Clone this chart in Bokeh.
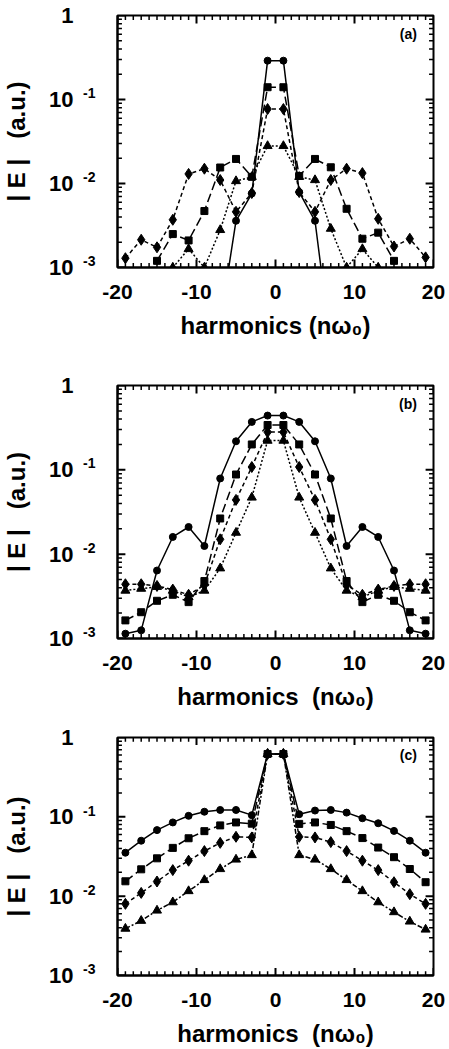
from bokeh.plotting import figure
from bokeh.layouts import column
from bokeh.models import Range1d, LogAxis, FixedTicker, Label
from bokeh.embed import file_html
from bokeh.resources import INLINE

# ---------------- data ----------------
harmonics = [-19, -17, -15, -13, -11, -9, -7, -5, -3, -1,
             1, 3, 5, 7, 9, 11, 13, 15, 17, 19]

# panel (a)
a_circle_n = [-7, -5, -3, -1, 1, 3, 5, 7]
a_circle = [2.2e-4, 3.6e-3, 7.6e-3, 0.29, 0.29, 7.9e-3, 3.6e-3, 1.2e-4]
a_square_n = [-15, -13, -11, -9, -7, -5, -3, -1, 1, 3, 5, 7, 9, 11, 13, 15]
a_square = [1.2e-3, 2.5e-3, 2.1e-3, 4.7e-3, 0.0155, 0.0196, 0.012, 0.14,
            0.14, 0.0123, 0.0196, 0.0156, 5.0e-3, 2.2e-3, 2.6e-3, 1.2e-3]
a_diamond_n = harmonics
a_diamond = [1.29e-3, 2.14e-3, 1.74e-3, 3.7e-3, 0.013, 0.015, 0.011, 4.6e-3, 7.7e-3, 0.077,
             0.077, 7.9e-3, 4.6e-3, 0.011, 0.015, 0.0133, 3.8e-3, 1.78e-3, 2.2e-3, 1.32e-3]
a_triangle_n = [-13, -11, -9, -7, -5, -3, -1, 1, 3, 5, 7, 9, 11, 13]
a_triangle = [1.0e-3, 1.66e-3, 1.0e-3, 2.8e-3, 0.0107, 0.012, 0.028,
              0.028, 0.012, 0.011, 2.9e-3, 1.0e-3, 1.66e-3, 1.0e-3]

# panel (b)
b_circle = [1.14e-3, 1.25e-3, 6.4e-3, 0.016, 0.021, 0.0125, 0.079, 0.218, 0.37, 0.44,
            0.44, 0.37, 0.218, 0.079, 0.0125, 0.021, 0.016, 6.4e-3, 1.25e-3, 1.14e-3]
b_square = [1.64e-3, 2.05e-3, 2.8e-3, 3.3e-3, 2.7e-3, 4.8e-3, 0.0265, 0.088, 0.20, 0.34,
            0.34, 0.20, 0.088, 0.0265, 4.8e-3, 2.7e-3, 3.3e-3, 2.8e-3, 2.05e-3, 1.64e-3]
b_diamond = [4.4e-3, 4.4e-3, 4.2e-3, 3.8e-3, 3.3e-3, 4.3e-3, 0.015, 0.044, 0.108, 0.28,
             0.28, 0.108, 0.044, 0.015, 4.3e-3, 3.3e-3, 3.8e-3, 4.2e-3, 4.4e-3, 4.4e-3]
b_triangle = [3.7e-3, 3.9e-3, 4.1e-3, 3.7e-3, 3.1e-3, 3.7e-3, 6.8e-3, 0.018, 0.047, 0.222,
              0.222, 0.047, 0.018, 6.8e-3, 3.7e-3, 3.1e-3, 3.7e-3, 4.1e-3, 3.9e-3, 3.7e-3]

# panel (c)
c_circle = [0.0353, 0.050, 0.068, 0.085, 0.103, 0.116, 0.122, 0.122, 0.105, 0.62,
            0.62, 0.108, 0.12, 0.122, 0.113, 0.096, 0.083, 0.0665, 0.050, 0.0353]
c_square = [0.0154, 0.0218, 0.030, 0.0406, 0.0537, 0.066, 0.078, 0.085, 0.082, 0.62,
            0.62, 0.0815, 0.085, 0.079, 0.066, 0.054, 0.041, 0.031, 0.022, 0.015]
c_diamond = [8.0e-3, 0.011, 0.0153, 0.0213, 0.028, 0.037, 0.047, 0.056, 0.055, 0.62,
             0.62, 0.056, 0.055, 0.048, 0.037, 0.028, 0.0213, 0.015, 0.0106, 8.0e-3]
c_triangle = [3.9e-3, 4.9e-3, 6.6e-3, 8.4e-3, 0.0116, 0.016, 0.022, 0.029, 0.033, 0.62,
              0.62, 0.033, 0.029, 0.022, 0.016, 0.0116, 8.4e-3, 6.3e-3, 4.8e-3, 3.8e-3]

# ticks
x_ticks = [-20, -10, 0, 10, 20]
x_tick_labels = ["-20", "-10", "0", "10", "20"]
y_ticks = [0.001, 0.01, 0.1, 1.0]
y_tick_bases = ["10", "10", "10", "1"]
y_exp_ticks = [0.001, 0.01, 0.1]
y_tick_exponents = ["-3", "-2", "-1"]

x_minor = [v for v in range(-20, 21) if v not in x_ticks]
y_minor = [k * d for d in (0.001, 0.01, 0.1) for k in range(2, 10)]

FONT = "Liberation Sans"
NB = "\u00a0"
ylabel = "|" + NB + "E" + NB + "|" + NB * 3 + "(a.u.)"
PX_PER_DECADE = 84.0
PX_PER_UNIT = 8.0
SUP_RAISE = 10 ** (6.5 / PX_PER_DECADE)   # superscripts sit ~6 px above their tick


def make_panel(series, tag, height, left, right, top, bottom, xlabel):
    p = figure(width=449, height=height, x_range=Range1d(-20, 20),
               y_range=Range1d(1e-3, 1), y_axis_type="log",
               output_backend="svg", toolbar_location=None,
               min_border_left=left, min_border_right=right,
               min_border_top=top, min_border_bottom=bottom)
    p.grid.visible = False
    p.outline_line_color = "black"
    p.outline_line_width = 2
    p.background_fill_color = "white"
    p.border_fill_color = "white"

    # ---- x axis ----
    xa = p.xaxis[0]
    xa.ticker = FixedTicker(ticks=x_ticks)
    xa.major_label_overrides = {t: l for t, l in zip(x_ticks, x_tick_labels)}
    xa.axis_label = xlabel
    xa.major_label_standoff = 11
    xa.axis_label_standoff = 10

    # ---- y axis: inner axis carries the exponents, outer one the bases ----
    ya_exp = p.yaxis[0]
    sup_pos = [t * SUP_RAISE for t in y_exp_ticks]
    ya_exp.ticker = FixedTicker(ticks=sup_pos)
    ya_exp.major_label_overrides = {t: l for t, l in zip(sup_pos, y_tick_exponents)}
    ya_exp.major_label_standoff = 16
    ya_exp.major_label_text_font_size = "14px"

    ya = LogAxis(ticker=FixedTicker(ticks=y_ticks))
    ya.major_label_overrides = {t: l for t, l in zip(y_ticks, y_tick_bases)}
    ya.major_label_standoff = 1
    ya.major_label_text_font_size = "22px"
    ya.axis_label = ylabel
    ya.axis_label_standoff = 16
    ya.axis_line_color = None
    p.add_layout(ya, "left")

    for ax in (xa, ya_exp, ya):
        ax.major_tick_line_color = None
        ax.minor_tick_line_color = None
        ax.major_label_text_font = FONT
        ax.major_label_text_font_style = "bold"
        ax.major_label_text_color = "black"
        ax.axis_label_text_font = FONT
        ax.axis_label_text_font_style = "bold"
        ax.axis_label_text_font_size = "24px"
        ax.axis_label_text_color = "black"
    xa.major_label_text_font_size = "21px"
    xa.axis_line_width = 2
    ya_exp.axis_line_width = 2

    # ---- inward tick marks on all four sides ----
    def ticks_x(pos, length, lw):
        k = len(pos)
        f = 10 ** (length / PX_PER_DECADE)
        p.segment(x0=pos, y0=[1e-3] * k, x1=pos, y1=[1e-3 * f] * k,
                  line_color="black", line_width=lw)
        p.segment(x0=pos, y0=[1.0] * k, x1=pos, y1=[1.0 / f] * k,
                  line_color="black", line_width=lw)

    def ticks_y(pos, length, lw):
        k = len(pos)
        d = length / PX_PER_UNIT
        p.segment(x0=[-20] * k, y0=pos, x1=[-20 + d] * k, y1=pos,
                  line_color="black", line_width=lw)
        p.segment(x0=[20] * k, y0=pos, x1=[20 - d] * k, y1=pos,
                  line_color="black", line_width=lw)

    ticks_x(x_ticks, 8, 2)
    ticks_x(x_minor, 4.5, 1.5)
    ticks_y(y_ticks, 8, 2)
    ticks_y(y_minor, 4.5, 1.5)

    # ---- data ----
    for n, vals, marker, size, dash in series:
        p.line(n, vals, line_color="black", line_width=1.5, line_dash=dash)
        p.scatter(n, vals, marker=marker, size=size, fill_color="black",
                  line_color="black")

    p.add_layout(Label(x=17.9, y=0.6, text=tag, text_align="right",
                       text_baseline="middle", text_font=FONT,
                       text_font_style="bold", text_font_size="14px",
                       text_color="black"))
    return p


pa = make_panel([
    (a_circle_n, a_circle, "circle", 7, "solid"),
    (a_square_n, a_square, "square", 7, "9 4"),
    (a_diamond_n, a_diamond, "diamond", 11, "4 3"),
    (a_triangle_n, a_triangle, "triangle", 9, "2 2"),
], "(a)", 355, 114, 15, 15, 88, "harmonics (n\u03c9\u2080)")

pb = make_panel([
    (harmonics, b_circle, "circle", 7, "solid"),
    (harmonics, b_square, "square", 7, "9 4"),
    (harmonics, b_diamond, "diamond", 11, "4 3"),
    (harmonics, b_triangle, "triangle", 9, "2 2"),
], "(b)", 370, 112, 16, 30, 87, "harmonics" + NB + NB + "(n\u03c9\u2080)")

pc = make_panel([
    (harmonics, c_circle, "circle", 7, "solid"),
    (harmonics, c_square, "square", 7, "9 4"),
    (harmonics, c_diamond, "diamond", 11, "4 3"),
    (harmonics, c_triangle, "triangle", 9, "5 2 2 2"),
], "(c)", 324, 111, 16, 12, 64, "harmonics" + NB + NB + "(n\u03c9\u2080)")

layout = column(pa, pb, pc, spacing=0)
open("out.html", "w").write(file_html(layout, INLINE))
